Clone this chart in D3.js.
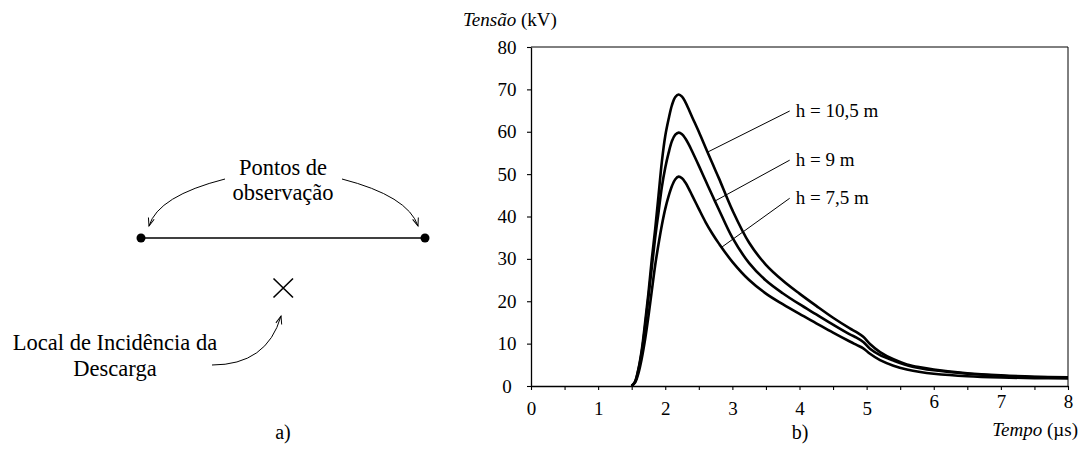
<!DOCTYPE html>
<html>
<head>
<meta charset="utf-8">
<script src="https://cdn.jsdelivr.net/npm/d3@7"></script>
<style>
  body { margin: 0; background: #fff; }
  svg text { font-family: "Liberation Serif", "DejaVu Serif", serif; fill: #000; }
</style>
</head>
<body>
<div class="figure"></div>
<script>
// Dados lidos do gráfico b)
const tempo = [1.5, 1.55, 1.6, 1.65, 1.7, 1.75, 1.8, 1.85, 1.9, 1.95,
               2.0, 2.05, 2.1, 2.15, 2.2, 2.25, 2.3, 2.35, 2.4, 2.5,
               2.6, 2.7, 2.8, 3.0, 3.25, 3.5, 3.75, 4.0, 4.25, 4.5,
               4.75, 4.85, 4.95, 5.05, 5.2, 5.4, 5.6, 5.8, 6.0, 6.5,
               7.0, 7.5, 8.0];
const h105 = [0, 1, 4, 8.5, 15, 22, 30, 37, 45, 53,
              59, 63, 66.3, 68.2, 68.8, 68.3, 67, 65.3, 63.5, 60,
              56.3, 52.6, 49, 41.5, 33.8, 28.6, 24.9, 21.8, 18.9, 16.1,
              13.6, 12.7, 11.6, 9.9, 8.0, 6.3, 5.1, 4.4, 3.9, 3.0,
              2.5, 2.2, 2.05];
const h9 = [0, 1, 3.8, 8, 14, 21, 28, 35, 41, 47,
            51.5, 55, 57.8, 59.3, 59.8, 59.4, 58.4, 57, 55.4, 52,
            48.5, 45, 41.6, 35, 29, 24.9, 21.9, 19.3, 16.9, 14.5,
            12.2, 11.4, 10.4, 8.8, 7.3, 6.0, 4.9, 4.2, 3.7, 2.9,
            2.4, 2.1, 1.95];
const h75 = [0, 0.8, 3, 6.5, 11, 16.5, 22.5, 28.5, 33.5, 38,
             41.8, 44.8, 47.2, 48.8, 49.4, 49, 48, 46.6, 45, 41.8,
             38.7, 36, 33.6, 29.3, 25, 21.8, 19.3, 17, 14.8, 12.6,
             10.5, 9.7, 8.9, 7.6, 6.1, 4.8, 3.9, 3.3, 2.9, 2.3,
             2.0, 1.85, 1.8];

const xTicks = d3.range(0, 8.01, 0.5);   // marcas a cada 0,5 µs
const yTicks = d3.range(0, 81, 10);

// rótulos das curvas: ponto na curva (t0) e fim da linha de chamada (t1, v1)
const rotulos = ['h = 10,5 m', 'h = 9 m', 'h = 7,5 m'];
const series = [h105, h9, h75];
const chamadaT0 = [2.63, 2.74, 2.84];
const chamadaT1 = [3.854, 3.854, 3.854];
const chamadaV1 = [64.9, 53.3, 44.3];

const FONTE = '"Liberation Serif", "DejaVu Serif", serif';

// svg
const svg_width = 1081;
const svg_height = 458;
const svg = d3.select('.figure').append('svg')
    .attr('width', svg_width).attr('height', svg_height)
    .style('font-family', FONTE);

svg.append('defs').append('marker')
    .attr('id', 'seta')
    .attr('markerUnits', 'userSpaceOnUse')
    .attr('viewBox', '-10 -5 12 10')
    .attr('refX', 0).attr('refY', 0)
    .attr('markerWidth', 12).attr('markerHeight', 10)
    .attr('orient', 'auto')
    .append('path')
    .attr('d', 'M-8,-3L0,0L-8,3')
    .attr('fill', 'none').attr('stroke', '#000').attr('stroke-width', 1);

// ---------- a) esquema ----------
const esq = svg.append('g').attr('class', 'esquema');
esq.append('line')
    .attr('x1', 141).attr('y1', 238).attr('x2', 425).attr('y2', 238)
    .attr('stroke', '#000').attr('stroke-width', 1.3);
esq.selectAll('circle').data([141, 425]).join('circle')
    .attr('cx', d => d).attr('cy', 238).attr('r', 4.5).attr('fill', '#000');
// X = local da descarga
esq.append('path')
    .attr('d', 'M273.5,278.5L293,297.5M293,278.5L273.5,297.5')
    .attr('stroke', '#000').attr('stroke-width', 1.6).attr('fill', 'none');

const setas = [
    'M225,179Q158,196 149,226',
    'M342,179Q408,196 418,226',
    'M212,365Q267,365 281,316'
];
esq.selectAll('path.seta').data(setas).join('path')
    .attr('class', 'seta')
    .attr('d', d => d)
    .attr('fill', 'none').attr('stroke', '#000').attr('stroke-width', 1)
    .attr('marker-end', 'url(#seta)');

const txtEsq = [
    ['Pontos de', 283, 175],
    ['observação', 283, 200],
    ['Local de Incidência da', 115, 350],
    ['Descarga', 115, 376]
];
esq.selectAll('text').data(txtEsq).join('text')
    .attr('x', d => d[1]).attr('y', d => d[2])
    .attr('text-anchor', 'middle')
    .style('font-size', '22.5px')
    .text(d => d[0]);

svg.append('text').attr('x', 283).attr('y', 439)
    .attr('text-anchor', 'middle').style('font-size', '20px').text('a)');
svg.append('text').attr('x', 800).attr('y', 439)
    .attr('text-anchor', 'middle').style('font-size', '20px').text('b)');

// ---------- b) gráfico ----------
const chart_margin = { top: 47, bottom: 72, left: 531, right: 13 };
const chart_width = svg_width - chart_margin.left - chart_margin.right;
const chart_height = svg_height - chart_margin.top - chart_margin.bottom;
const g = svg.append('g')
    .attr('transform', `translate(${chart_margin.left},${chart_margin.top})`);

const xScale = d3.scaleLinear([0, 8], [0, chart_width]);
const yScale = d3.scaleLinear([0, 80], [chart_height, 0]);

// moldura (topo e direita)
g.append('path')
    .attr('d', `M0,0H${chart_width}V${chart_height}`)
    .attr('fill', 'none').attr('stroke', '#000').attr('stroke-width', 1);

const xAxis = d3.axisBottom(xScale)
    .tickValues(xTicks)
    .tickFormat(d => Number.isInteger(d) ? d : '')
    .tickSizeInner(4).tickSizeOuter(0).tickPadding(12);
const yAxis = d3.axisLeft(yScale)
    .tickValues(yTicks)
    .tickSizeInner(4).tickSizeOuter(0).tickPadding(20);

const xAxisDraw = g.append('g').attr('class', 'x axis')
    .attr('transform', `translate(0,${chart_height})`).call(xAxis);
const yAxisDraw = g.append('g').attr('class', 'y axis').call(yAxis);

[xAxisDraw, yAxisDraw].forEach(ax => {
    ax.attr('font-family', null).attr('font-size', null);
    ax.select('.domain').attr('stroke', '#000').attr('stroke-width', 1.3);
    ax.selectAll('line').attr('stroke', '#000').attr('stroke-width', 1.1);
    ax.selectAll('text')
        .style('font-size', '19px')
        .style('font-family', FONTE)
        .attr('fill', '#000');
});
// rótulos do eixo y centrados
yAxisDraw.selectAll('text').attr('text-anchor', 'middle').attr('x', -24);
// no original os rótulos 6, 7 e 8 ficam um pouco mais altos
xAxisDraw.selectAll('.tick text').filter(d => d >= 6).attr('y', 9);

// títulos dos eixos
const yTitle = svg.append('text').attr('x', 463).attr('y', 26).style('font-size', '19px');
yTitle.append('tspan').style('font-style', 'italic').text('Tensão');
yTitle.append('tspan').text(' (kV)');

const xTitle = svg.append('text').attr('x', 1078).attr('y', 436)
    .attr('text-anchor', 'end').style('font-size', '19px');
xTitle.append('tspan').style('font-style', 'italic').text('Tempo');
xTitle.append('tspan').text(' (µs)');

// curvas
const line = d3.line()
    .x((d, i) => xScale(tempo[i]))
    .y(d => yScale(d))
    .curve(d3.curveCatmullRom.alpha(0.5));

g.append('g').attr('class', 'curvas')
    .selectAll('path').data(series).join('path')
    .attr('d', line)
    .attr('fill', 'none').attr('stroke', '#000').attr('stroke-width', 2.6);

// interpolação linear de uma série num tempo t
function valorEm(serie, t) {
    const i = d3.bisectLeft(tempo, t);
    if (i <= 0) return serie[0];
    const t0 = tempo[i - 1], t1 = tempo[i];
    return serie[i - 1] + (serie[i] - serie[i - 1]) * (t - t0) / (t1 - t0);
}

const chamadas = g.append('g').attr('class', 'chamadas');
rotulos.forEach((txt, k) => {
    const x0 = xScale(chamadaT0[k]);
    const y0 = yScale(valorEm(series[k], chamadaT0[k]));
    const x1 = xScale(chamadaT1[k]);
    const y1 = yScale(chamadaV1[k]);
    chamadas.append('line')
        .attr('x1', x0).attr('y1', y0).attr('x2', x1).attr('y2', y1)
        .attr('stroke', '#000').attr('stroke-width', 1);
    chamadas.append('text')
        .attr('x', x1 + 6).attr('y', y1 + 6)
        .style('font-size', '19px')
        .text(txt);
});
</script>
</body>
</html>
